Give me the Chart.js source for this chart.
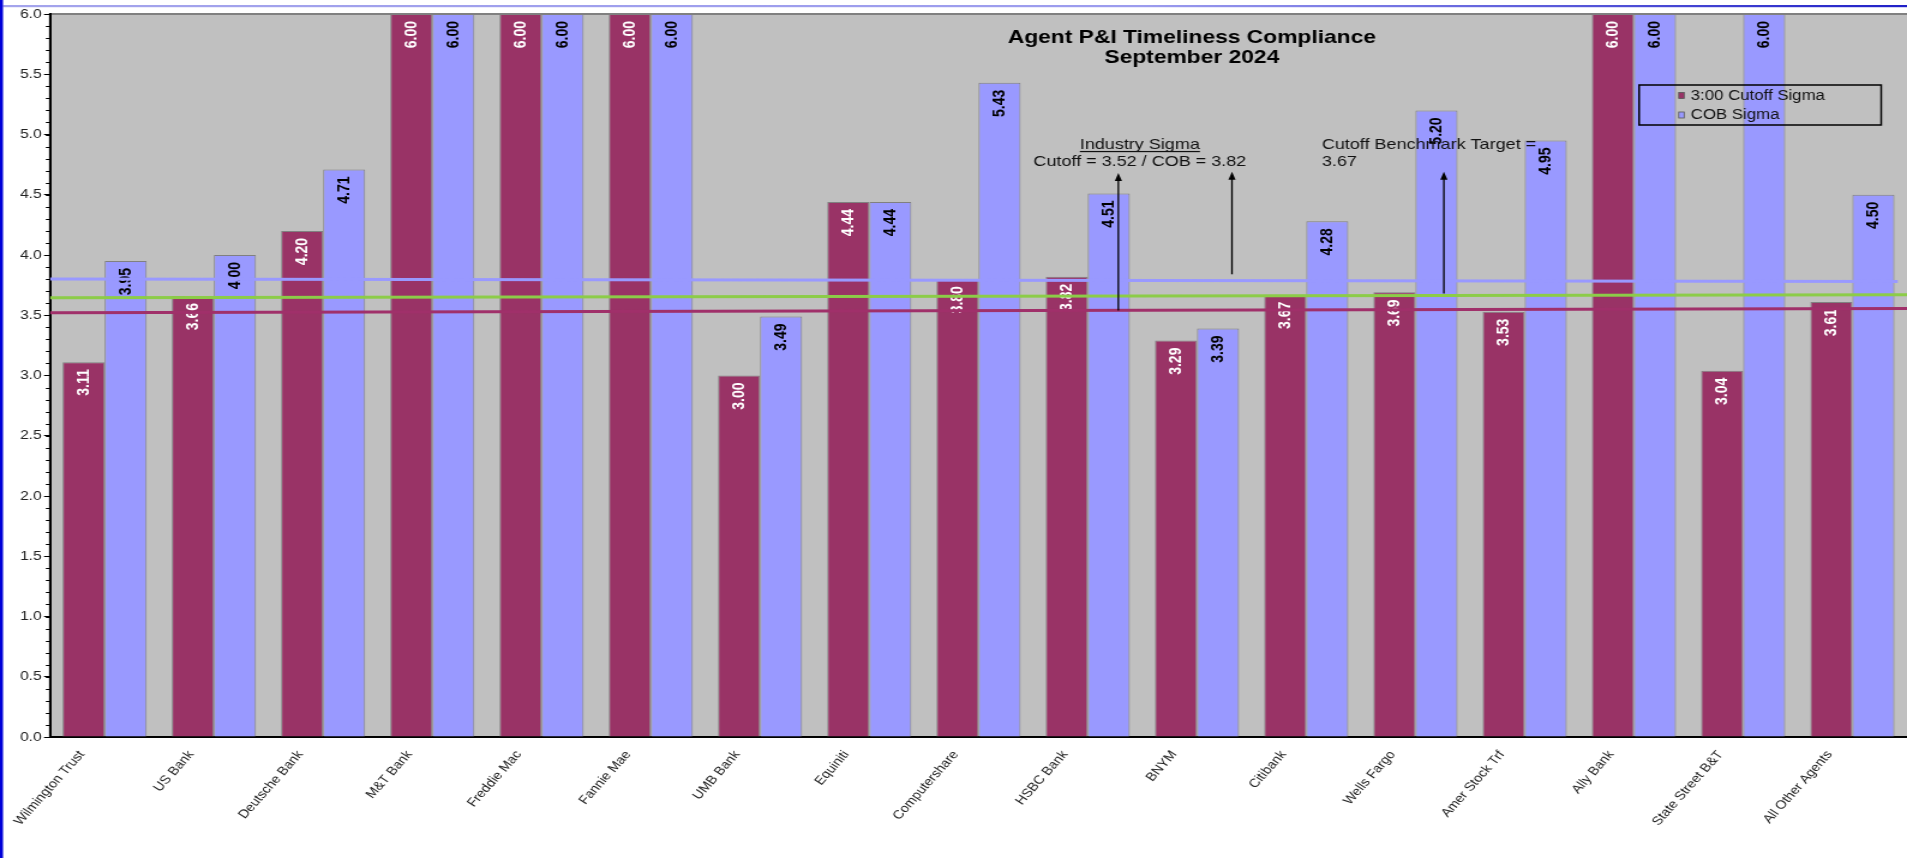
<!DOCTYPE html>
<html>
<head>
<meta charset="utf-8">
<script src="https://cdn.jsdelivr.net/npm/chart.js@4/dist/chart.umd.min.js"></script>
<style>
html,body{margin:0;padding:0;background:#fff;overflow:hidden}
</style>
</head>
<body>
<canvas id="c" width="1589" height="858" style="display:block;width:1907px;height:858px"></canvas>
<script>
// ---------------- data ----------------
const categories = ['Wilmington Trust','US Bank','Deutsche Bank','M&T Bank','Freddie Mac','Fannie Mae','UMB Bank','Equiniti','Computershare','HSBC Bank','BNYM','Citibank','Wells Fargo','Amer Stock Trf','Ally Bank','State Street B&T','All Other Agents'];
const cutoffSigma = [3.11,3.66,4.20,6.00,6.00,6.00,3.00,4.44,3.80,3.82,3.29,3.67,3.69,3.53,6.00,3.04,3.61];
const cobSigma    = [3.95,4.00,4.71,6.00,6.00,6.00,3.49,4.44,5.43,4.51,3.39,4.28,5.20,4.95,6.00,6.00,4.50];
const seriesNames = ['3:00 Cutoff Sigma','COB Sigma'];
const yMin = 0, yMax = 6, yStep = 0.5, yMinorStep = 0.1;

// reference lines: value at left end and right end of the plot, and right end as share of plot width
const cobRefLine    = [3.80, 3.78];
const cutoffRefLine = [3.52, 3.555];
const benchmarkLine = [3.645, 3.67];
const refLineEnds   = [0.995, 1, 1];

// annotation arrows (category position, from value, to value)
const arrowPos  = [9.28, 10.32, 12.26];
const arrowFrom = [3.54, 3.84, 3.68];
const arrowTo   = [4.68, 4.69, 4.69];

const titleLines = ['Agent P&I Timeliness Compliance','September 2024'];
const industryTitle = 'Industry Sigma';
const industryText  = 'Cutoff = 3.52 / COB = 3.82';
const benchText     = ['Cutoff Benchmark Target =','3.67'];

// ---------------- styles ----------------
const RED = '#993366', BLUE = '#9999ff';
const FONT = '"Liberation Sans", Arial, sans-serif';
const refLineColors = ['#9999ff', '#8ccc48', '#a0306a'];

const decor = {
  id: 'decor',
  beforeDraw(chart) {
    const {ctx, chartArea: a} = chart;
    ctx.save();
    ctx.fillStyle = '#ffffff';
    ctx.fillRect(0, 0, chart.width, chart.height);
    ctx.fillStyle = '#c0c0c0';
    ctx.fillRect(a.left, a.top, a.right - a.left, a.bottom - a.top);
    ctx.strokeStyle = '#808080';
    ctx.lineWidth = 2;
    ctx.strokeRect(a.left, a.top, a.right - a.left + 4, a.bottom - a.top);
    ctx.restore();
  },
  afterDatasetsDraw(chart) {
    const {ctx, chartArea: a} = chart;
    const ys = chart.scales.y;
    const lines = [cobRefLine, benchmarkLine, cutoffRefLine];
    ctx.save();
    ctx.beginPath();
    ctx.rect(a.left, a.top, a.right - a.left, a.bottom - a.top);
    ctx.clip();
    ctx.lineWidth = 3;
    lines.forEach((vals, i) => {
      const x1 = a.left + (a.right - a.left) * refLineEnds[i];
      ctx.strokeStyle = refLineColors[i];
      ctx.beginPath();
      ctx.moveTo(a.left, ys.getPixelForValue(vals[0]));
      ctx.lineTo(x1, ys.getPixelForValue(vals[0] + (vals[1] - vals[0]) * refLineEnds[i]));
      ctx.stroke();
    });
    ctx.restore();
  },
  afterDraw(chart) {
    const {ctx, chartArea: a} = chart;
    const ys = chart.scales.y;
    ctx.save();
    ctx.strokeStyle = '#000';
    ctx.lineWidth = 1;
    const ax = ys.right;
    for (let v = yMin; v <= yMax + 1e-9; v += yMinorStep) {
      const p = Math.round(ys.getPixelForValue(v)) + 0.5;
      ctx.beginPath();
      ctx.moveTo(ax - 3.5, p);
      ctx.lineTo(ax, p);
      ctx.stroke();
    }
    ctx.fillStyle = '#ffffff';
    ctx.fillRect(0, 0, chart.width, 4.5);
    ctx.fillRect(0, 0, a.left - 3, 9);
    const g = ctx.createLinearGradient(0, 0, chart.width, 0);
    g.addColorStop(0, '#a4a4ec');
    g.addColorStop(0.6, '#9c9cee');
    g.addColorStop(0.72, '#7878e4');
    g.addColorStop(0.95, '#3030cc');
    g.addColorStop(1, '#2020c8');
    ctx.fillStyle = g;
    ctx.fillRect(2.5, 5, chart.width, 2.2);
    ctx.fillStyle = '#0000d8';
    ctx.fillRect(0, 0, 2.5, chart.height);
    ctx.restore();
  }
};

const barLabels = {
  id: 'barLabels',
  afterDatasetDraw(chart, args) {
    const meta = args.meta;
    if (meta.type !== 'bar') return;
    const ds = chart.data.datasets[args.index];
    const {ctx} = chart;
    ctx.save();
    ctx.font = 'bold 14px ' + FONT;
    ctx.fillStyle = args.index === 0 ? '#ffffff' : '#000000';
    ctx.textAlign = 'right';
    ctx.textBaseline = 'middle';
    meta.data.forEach((el, i) => {
      ctx.save();
      ctx.translate(el.x, el.y + 7);
      ctx.rotate(-Math.PI / 2);
      ctx.fillText(ds.data[i].toFixed(2), 0, 0);
      ctx.restore();
    });
    ctx.restore();
  }
};

const annotations = {
  id: 'annotations',
  afterDraw(chart) {
    const {ctx} = chart;
    const xs = chart.scales.x, ys = chart.scales.y;
    ctx.save();
    ctx.strokeStyle = '#000';
    ctx.fillStyle = '#000';
    ctx.lineWidth = 1.3;
    arrowPos.forEach((v, i) => {
      const px = xs.getPixelForValue(v);
      const y0 = ys.getPixelForValue(arrowFrom[i]);
      const y1 = ys.getPixelForValue(arrowTo[i]);
      ctx.beginPath();
      ctx.moveTo(px, y0);
      ctx.lineTo(px, y1 + 6);
      ctx.stroke();
      ctx.beginPath();
      ctx.moveTo(px, y1);
      ctx.lineTo(px - 3, y1 + 8);
      ctx.lineTo(px + 3, y1 + 8);
      ctx.closePath();
      ctx.fill();
    });
    ctx.fillStyle = '#111';
    ctx.font = '15px ' + FONT;
    ctx.textBaseline = 'alphabetic';
    const cx = xs.getPixelForValue(9.477);
    ctx.textAlign = 'center';
    const yb1 = ys.getPixelForValue(4.88), yb2 = ys.getPixelForValue(4.74);
    ctx.fillText(industryTitle, cx, yb1);
    const w = ctx.measureText(industryTitle).width;
    ctx.fillRect(cx - w / 2, yb1 + 2, w, 1.2);
    ctx.fillText(industryText, cx, yb2);
    ctx.textAlign = 'left';
    const bx = xs.getPixelForValue(11.143);
    ctx.fillText(benchText[0], bx, yb1);
    ctx.fillText(benchText[1], bx, yb2);
    ctx.fillStyle = '#000';
    ctx.font = 'bold 19px ' + FONT;
    ctx.textAlign = 'center';
    const tx = xs.getPixelForValue(9.953);
    ctx.fillText(titleLines[0], tx, 42.5);
    ctx.fillText(titleLines[1], tx, 63);
    const lx = chart.width - 223.2, ly = 85, lw = 201.7, lh = 40;
    ctx.strokeStyle = '#000';
    ctx.lineWidth = 1.5;
    ctx.strokeRect(lx, ly, lw, lh);
    ctx.font = '14px ' + FONT;
    ctx.textAlign = 'left';
    ctx.textBaseline = 'middle';
    chart.data.datasets.forEach((d, i) => {
      const yy = ly + 10.5 + i * 19.5;
      ctx.fillStyle = d.backgroundColor;
      ctx.fillRect(lx + 33, yy - 3, 4.5, 6);
      ctx.strokeStyle = '#555';
      ctx.lineWidth = 0.8;
      ctx.strokeRect(lx + 33, yy - 3, 4.5, 6);
      ctx.fillStyle = '#111';
      ctx.fillText(d.label, lx + 43, yy + 0.5);
    });
    ctx.restore();
  }
};

const canvas = document.getElementById('c');
new Chart(canvas, {
  type: 'bar',
  data: {
    labels: categories,
    datasets: [
      {label: seriesNames[0], data: cutoffSigma, backgroundColor: RED, borderColor: '#808080', borderWidth: 1},
      {label: seriesNames[1], data: cobSigma, backgroundColor: BLUE, borderColor: '#808080', borderWidth: 1}
    ]
  },
  options: {
    responsive: false,
    devicePixelRatio: 1,
    animation: false,
    events: [],
    datasets: {bar: {barPercentage: 1, categoryPercentage: 0.77}},
    layout: {padding: {top: 14, left: 0, right: 0, bottom: 0}},
    plugins: {legend: {display: false}, tooltip: {enabled: false}, title: {display: false}},
    scales: {
      x: {
        type: 'category',
        offset: true,
        grid: {display: false, drawTicks: false, offset: true},
        border: {display: true, color: '#000', width: 2},
        ticks: {
          autoSkip: false, minRotation: 53, maxRotation: 53, labelOffset: -19,
          font: {family: FONT, size: 12}, color: '#222', padding: 11
        },
        afterFit(s) { s.height = 121; s.paddingLeft = 0; s.paddingRight = 0; }
      },
      y: {
        min: yMin, max: yMax,
        grid: {drawOnChartArea: false, tickLength: 5, tickColor: '#000', tickWidth: 1},
        border: {display: true, color: '#000', width: 2},
        ticks: {
          stepSize: yStep, padding: 2,
          font: {family: FONT, size: 13}, color: '#222',
          callback: v => Number(v).toFixed(1)
        },
        afterFit(s) { s.width = 41.7; s.paddingTop = 0; s.paddingBottom = 0; }
      }
    }
  },
  plugins: [decor, barLabels, annotations]
});
canvas.style.width = '1907px';
canvas.style.height = '858px';
</script>
</body>
</html>
